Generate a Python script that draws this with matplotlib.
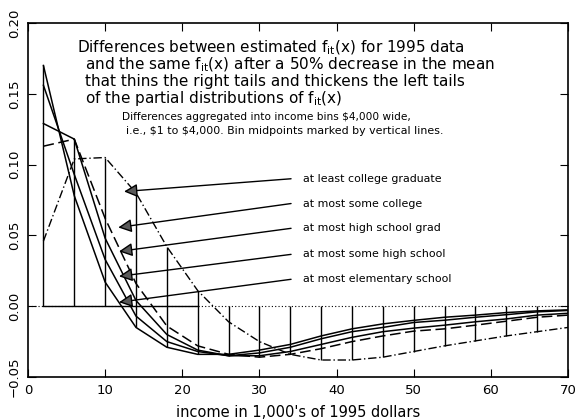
import numpy as np
import matplotlib.pyplot as plt

# bin midpoints (income, $1,000s)
income = [2, 6, 10, 14, 18, 22, 26, 30, 34, 38, 42, 46, 50, 54, 58, 62, 66, 70]

elem      = [0.170, 0.078, 0.017, -0.015, -0.029, -0.034, -0.034, -0.031, -0.027, -0.021,
             -0.016, -0.0125, -0.010, -0.0078, -0.0063, -0.0045, -0.0033, -0.0026]
some_hs   = [0.156, 0.093, 0.033, -0.007, -0.025, -0.032, -0.035, -0.033, -0.029, -0.023,
             -0.018, -0.015, -0.0115, -0.0099, -0.0078, -0.006, -0.004, -0.003]
hs_grad   = [0.129, 0.118, 0.048, 0.004, -0.020, -0.031, -0.035, -0.035, -0.032, -0.027,
             -0.022, -0.018, -0.0155, -0.0134, -0.011, -0.009, -0.0063, -0.005]
some_coll = [0.113, 0.118, 0.062, 0.016, -0.014, -0.028, -0.034, -0.036, -0.034, -0.030,
             -0.025, -0.021, -0.0176, -0.016, -0.0134, -0.0106, -0.0078, -0.0063]
coll_grad = [0.046, 0.104, 0.105, 0.080, 0.042, 0.011, -0.011, -0.025, -0.034, -0.038,
             -0.038, -0.036, -0.032, -0.028, -0.0245, -0.021, -0.018, -0.015]

labels = ['at least college graduate', 'at most some college', 'at most high school grad',
          'at most some high school', 'at most elementary school']
# arrow tip (on curve) and tail (near label) in data units
tips  = [(12.45, 0.081), (11.7, 0.0556), (11.8, 0.0387), (11.8, 0.0211), (11.8, 0.0028)]
tails = [(34.1, 0.090), (34.1, 0.0725), (34.1, 0.055), (34.1, 0.0366), (34.1, 0.019)]

fig = plt.figure(figsize=(5.77, 4.20), dpi=100)
ax = fig.add_axes([28/577, 1-377/420, 540/577, 354/420])

series = np.array([elem, some_hs, hs_grad, some_coll, coll_grad])
hi = np.maximum(series.max(axis=0), 0)
lo = np.minimum(series.min(axis=0), 0)

# zero line: dotted everywhere, solid under the bins with positive values
ax.axhline(0, color='k', lw=0.8, ls=(0, (1, 2)))
pos = [x for x, h in zip(income, hi) if h > 0]
ax.plot([pos[0], pos[-1]], [0, 0], color='k', lw=1.0)
ax.vlines(income, lo, hi, color='k', lw=1.0)

ax.plot(income, elem, color='k', lw=1.1)
ax.plot(income, some_hs, color='k', lw=1.1)
ax.plot(income, hs_grad, color='k', lw=1.1)
ax.plot(income, some_coll, color='k', lw=1.1, ls=(0, (7, 3)))
ax.plot(income, coll_grad, color='k', lw=1.0, ls=(0, (6, 2, 1, 2)))

for lab, tip, tail in zip(labels, tips, tails):
    ax.annotate('', xy=tip, xytext=tail,
                arrowprops=dict(arrowstyle='-|>', mutation_scale=20, lw=1.0,
                                fc='0.35', ec='k', shrinkA=0, shrinkB=0))
    ax.text(tail[0] + 1.5, tail[1], lab, fontsize=7.9, va='center', ha='left')

fs = 11
ax.text(0.091, 0.929, r'Differences between estimated f$_{\rm it}$(x) for 1995 data',
        transform=ax.transAxes, fontsize=fs, va='center')
ax.text(0.106, 0.882, r'and the same f$_{\rm it}$(x) after a 50% decrease in the mean',
        transform=ax.transAxes, fontsize=fs, va='center')
ax.text(0.106, 0.835, 'that thins the right tails and thickens the left tails',
        transform=ax.transAxes, fontsize=fs, va='center')
ax.text(0.106, 0.788, r'of the partial distributions of f$_{\rm it}$(x)',
        transform=ax.transAxes, fontsize=fs, va='center')
ax.text(0.175, 0.734, r'Differences aggregated into income bins \$4,000 wide,',
        transform=ax.transAxes, fontsize=7.6, va='center')
ax.text(0.182, 0.695, r'i.e., \$1 to \$4,000. Bin midpoints marked by vertical lines.',
        transform=ax.transAxes, fontsize=7.9, va='center')

ax.set_xlim(0, 70)
ax.set_ylim(-0.05, 0.20)
ax.set_xticks([0, 10, 20, 30, 40, 50, 60, 70])
ax.set_yticks([-0.05, 0.0, 0.05, 0.10, 0.15, 0.20])
ax.set_yticklabels(['\u22120.05', '0.00', '0.05', '0.10', '0.15', '0.20'],
                   rotation=90, va='center')
ax.tick_params(direction='in', length=6, top=True, right=True, labelsize=9.5, pad=5)
ax.set_xlabel("income in 1,000's of 1995 dollars", fontsize=10.5, labelpad=6)
for sp in ax.spines.values():
    sp.set_linewidth(1.2)

plt.savefig('out.png', dpi=100)
